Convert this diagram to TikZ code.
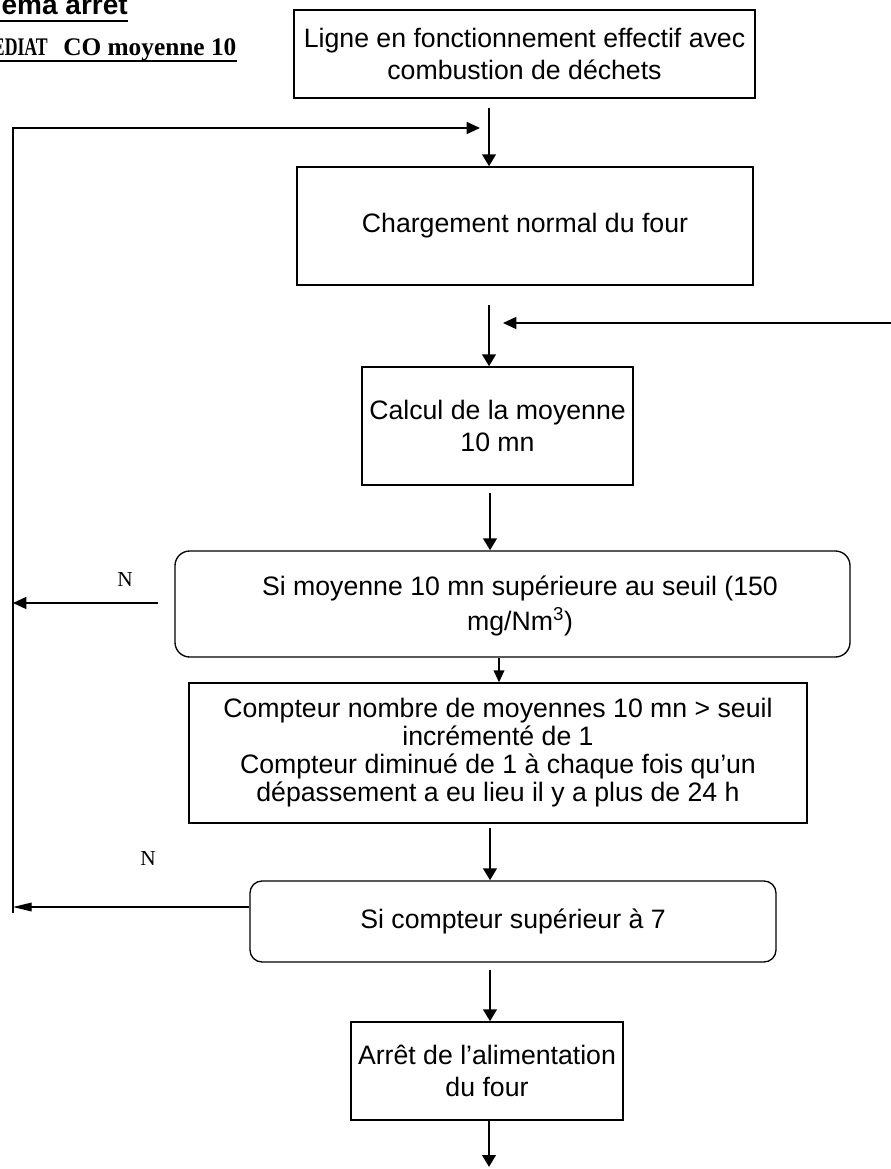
\documentclass[tikz,border=0pt]{standalone}
\usepackage{fontspec}
\setmainfont{Liberation Sans}
\newfontfamily\serifface{Liberation Serif}
\usetikzlibrary{arrows.meta}

\begin{document}
\begin{tikzpicture}[x=0.75pt,y=-0.75pt,
  box/.style={draw, line width=1pt, inner sep=0pt, align=center,
    font=\fontsize{20}{24}\selectfont},
  rbox/.style={box, rounded corners=11pt},
  flow/.style={line width=2.2pt, -{Triangle[length=9pt,width=10pt]}},
  thinflow/.style={line width=1.2pt, -{Triangle[length=9pt,width=8pt]}},
  back/.style={line width=1.2pt, -{Triangle[length=10pt,width=9pt]}},
  backlong/.style={line width=1pt, -{Triangle[length=14pt,width=6.5pt]}},
  lbl/.style={font=\serifface\fontsize{16}{18}\selectfont, inner sep=0pt},
  ul/.style={line width=1.5pt},
]
\useasboundingbox (0,0) rectangle (891,1169);
\clip (0,0) rectangle (891,1169);

% heading, cut at the left page edge
\node[anchor=base east, inner sep=0pt, font=\bfseries\fontsize{21}{24}\selectfont] (t1) at (128,15) {ema arret};
\draw[ul] (0,21) -- (t1.base east |- 0,21);
\node[anchor=base east, inner sep=0pt, xscale=0.7, font=\serifface\bfseries\fontsize{19}{22}\selectfont] (t2a) at (48,56) {EDIAT};
\node[anchor=base west, inner sep=0pt, font=\serifface\bfseries\fontsize{19}{22}\selectfont] (t2b) at (63,56) {CO moyenne 10};
\draw[ul] (0,61) -- (t2b.base east |- 0,61);

% process steps
\node[box, minimum width=345.75pt, minimum height=66pt] (b1) at (524.5,54)
  {Ligne en fonctionnement effectif avec\\combustion de déchets};
\node[box, minimum width=342pt, minimum height=88.5pt] (b2) at (525,226)
  {Chargement normal du four};
\node[box, minimum width=203.25pt, minimum height=88.5pt] (b3) at (497.5,426)
  {Calcul de la moyenne\\10 mn};
\node[rbox, minimum width=506.25pt, minimum height=79.5pt] (b4) at (512.5,604) {};
\node[font=\fontsize{20}{26}\selectfont, align=center, inner sep=0pt] (b4t) at (520,606)
  {Si moyenne 10 mn supérieure au seuil (150\\mg/Nm\textsuperscript{3})};
\node[box, minimum width=463.5pt, minimum height=105pt, font=\fontsize{20}{21}\selectfont] (b5) at (498,753)
  {Compteur nombre de moyennes 10 mn > seuil\\incrémenté de 1\\Compteur diminué de 1 à chaque fois qu’un\\dépassement a eu lieu il y a plus de 24 h};
\node[rbox, rounded corners=9pt, minimum width=394.5pt, minimum height=60.75pt] (b6) at (513,921.5)
  {Si compteur supérieur à 7};
\node[box, minimum width=204pt, minimum height=73.5pt] (b7) at (487,1071)
  {Arrêt de l’alimentation\\du four};

% free ends of the connectors
\coordinate (a1) at (489,108);
\coordinate (a2) at (489,305);
\coordinate (a3) at (490,493);
\coordinate (a5) at (490,828);
\coordinate (a6) at (490,970);
\coordinate (a7) at (489,1167);
\coordinate (fbtop) at (13,128);
\coordinate (fbbot) at (13,913);
\coordinate (fbend) at (480,128);
\coordinate (rin) at (892,323);
\coordinate (rend) at (503,323);
\coordinate (n1s) at (158,603);
\coordinate (n1e) at (13,603);
\coordinate (n2e) at (13,907);

% main flow
\draw[flow] (a1) -- (a1 |- b2.north);
\draw[flow] (a2) -- (a2 |- b3.north);
\draw[flow] (a3) -- (a3 |- b4.north);
\draw[thinflow] (b4.south -| 499,0) -- (b5.north -| 499,0);
\draw[flow] (a5) -- (a5 |- b6.north);
\draw[flow] (a6) -- (a6 |- b7.north);
\draw[flow] (b7.south -| a7) -- (a7);

% return loops
\draw[back] (fbbot) -- (fbtop) -- (fbend);
\draw[back] (rin) -- (rend);
\draw[back] (n1s) -- (n1e);
\node[lbl] (n1) at (125,580) {N};
\draw[backlong] (b6.west |- n2e) -- (n2e);
\node[lbl] (n2) at (148,859) {N};
\end{tikzpicture}
\end{document}
